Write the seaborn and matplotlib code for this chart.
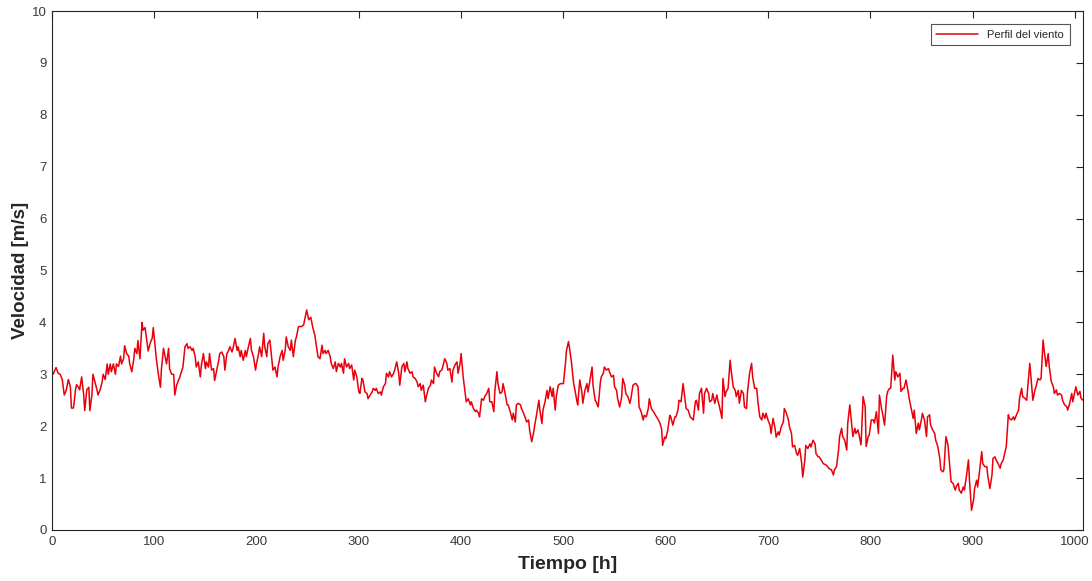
import matplotlib
matplotlib.use("Agg")
import matplotlib.pyplot as plt
import seaborn as sns
import pandas as pd

# ---- data (hour, wind speed m/s) ----
hours_a = [0,1,4,6,8,10,11,12,14,16,18,19,21,23,24,26,27,29,31,32,34,36,37,39,40,42,44,45,47,49,50,52,54,55,57,58,60,62,63,65,67,68,70,71,73,75,76,78,80,81,83,84,86,88,89,91,93,94,96,98,99,101,102,104,106,107,109,111,112,114,115,117,119,120,122,124]
speed_a = [3.05,3.0,3.13,3.02,3.0,2.9,2.75,2.6,2.7,2.9,2.75,2.35,2.35,2.7,2.8,2.75,2.7,2.95,2.6,2.3,2.7,2.75,2.3,2.6,3.0,2.85,2.7,2.6,2.7,2.85,3.0,2.9,3.2,3.0,3.2,3.05,3.2,3.0,3.2,3.15,3.35,3.2,3.3,3.55,3.4,3.35,3.2,3.05,3.3,3.5,3.4,3.65,3.3,4.0,3.85,3.9,3.6,3.45,3.6,3.7,3.9,3.5,3.3,3.0,2.75,3.1,3.5,3.3,3.2,3.5,3.1,3.0,3.0,2.6,2.8,2.9]

hours_b = [125,128,130,132,133,135,137,138,140,141,143,145,146,148,150,151,153,154,156,158,159,161,163,164,166,168,169,171,172,174,176,177,179,181,182,184,185,187,189,190,192,194,195,197,199,200,202,203,205,207,208,210,211,213,215,216,218,220,221,223,225,226,228,229,231,233,234,236,238,239,241,243,244,246,247,249,251]
speed_b = [2.95,3.14,3.53,3.59,3.5,3.53,3.46,3.5,3.34,3.14,3.24,2.95,3.17,3.4,3.11,3.24,3.14,3.4,3.08,3.11,2.88,3.08,3.27,3.4,3.43,3.34,3.08,3.4,3.43,3.53,3.43,3.5,3.69,3.46,3.53,3.34,3.46,3.27,3.46,3.34,3.53,3.69,3.46,3.34,3.08,3.21,3.4,3.53,3.34,3.79,3.53,3.34,3.59,3.66,3.27,3.08,3.14,2.95,3.14,3.34,3.46,3.27,3.46,3.72,3.53,3.46,3.66,3.34,3.66,3.72,3.92,3.92,3.92,3.95,4.05,4.24,4.05]

hours_c = [253,255,257,260,262,264,265,267,268,270,272,273,275,277,278,280,282,283,285,286,288,290,291,293,295,296,298,300,301,303,304,306,308,309,311,313,314,316,317,319,321,322,324,326,327,329,330,332,334,335,337,339,340,342,344,345,347,348,350,352,353,355,357,358,360,361,363,365,366,368,370,371,373]
speed_c = [4.1,3.9,3.75,3.34,3.30,3.56,3.40,3.46,3.40,3.46,3.34,3.21,3.11,3.24,3.05,3.21,3.14,3.21,3.02,3.30,3.14,3.21,3.11,3.18,2.89,3.08,2.95,2.66,2.63,2.92,2.89,2.66,2.63,2.53,2.60,2.66,2.73,2.69,2.73,2.63,2.66,2.60,2.76,2.82,3.02,2.95,3.05,2.95,3.02,3.08,3.24,3.02,2.79,3.14,3.21,3.05,3.24,3.11,3.02,3.05,2.95,2.92,2.85,2.76,2.82,2.69,2.79,2.47,2.57,2.73,2.79,2.89,2.82]

hours_d = [374,376,378,379,381,382,384,386,387,389,391,392,394,396,397,399,400,402,404,405,407,409,410,412,414,415,417,418,420,422,423,425,427,428,430,432,433,435,436,438,440,441,443,445,446,448,450,451,453,454,456,458,459,461,463,464,466,467,469,471,472,474,476,477,479,480,482,484,485,487,489,490,492,493,495,497,498,500,502,503,505]
speed_d = [3.14,3.02,2.95,3.05,3.08,3.14,3.30,3.21,3.08,3.11,2.85,3.08,3.18,3.24,3.02,3.21,3.40,2.95,2.63,2.47,2.53,2.41,2.47,2.34,2.28,2.31,2.25,2.18,2.53,2.50,2.57,2.63,2.73,2.47,2.47,2.28,2.69,3.05,2.82,2.63,2.66,2.82,2.63,2.41,2.41,2.28,2.12,2.25,2.08,2.41,2.44,2.41,2.34,2.25,2.15,2.08,2.12,1.92,1.70,1.89,2.02,2.25,2.50,2.31,2.05,2.31,2.47,2.69,2.53,2.76,2.57,2.73,2.31,2.57,2.79,2.82,2.82,2.82,3.21,3.46,3.63]

hours_e = [506,508,510,511,513,514,516,518,519,521,523,524,526,528,529,531,532,534,536,537,539,540,542,544,545,547,549,550,552,553,555,557,558,560,561,563,565,566,568,570,571,573,574,576,578,579,581,583,584,586,588,589,591,592,594,596,597,599,600,602,604,605,607,609,610,612,613,615,617,618,620,622]
speed_e = [3.50,3.21,2.82,2.73,2.50,2.41,2.89,2.66,2.44,2.69,2.82,2.66,2.89,3.14,2.79,2.50,2.47,2.37,2.82,2.95,3.02,3.14,3.08,3.11,3.05,2.95,2.98,2.76,2.69,2.53,2.37,2.57,2.92,2.79,2.63,2.57,2.44,2.53,2.79,2.82,2.82,2.76,2.37,2.28,2.12,2.21,2.18,2.34,2.53,2.34,2.28,2.25,2.18,2.15,2.08,1.95,1.63,1.79,1.76,1.92,2.21,2.18,2.02,2.18,2.18,2.31,2.50,2.47,2.82,2.66,2.34,2.31]

hours_f = [624,627,629,630,632,633,635,637,638,640,642,643,645,646,648,650,651,653,655,656,658,659,661,663,664,666,668,669,671,672,674,676,677,679,680,682,684,685,687,689,690,692,694,695,697,698,700,702,703,705,707,708,710,711,713,715,716,718,720,721,723,724,726,728,729,731,733,734,736,737,739,741,742,744,746,747,749,750]
speed_f = [2.18,2.12,2.47,2.50,2.31,2.63,2.73,2.25,2.63,2.73,2.63,2.47,2.50,2.63,2.44,2.60,2.50,2.34,2.15,2.92,2.57,2.66,2.73,3.27,3.08,2.76,2.69,2.57,2.69,2.44,2.69,2.63,2.37,2.34,2.66,3.02,3.21,2.95,2.73,2.73,2.50,2.18,2.12,2.25,2.15,2.25,2.12,2.02,1.86,2.15,1.95,1.79,1.89,1.83,1.99,2.08,2.34,2.25,2.12,1.99,1.86,1.60,1.63,1.47,1.44,1.57,1.28,1.02,1.34,1.63,1.57,1.66,1.60,1.73,1.66,1.47,1.41,1.41]

hours_g = [752,754,757,760,762,764,765,767,769,770,772,773,775,777,778,780,782,783,785,786,788,790,791,793,795,796,798,799,801,803,804,806,808,809,811,812,814,816,817,819,820,822,824,825,827,829,830,832,833,835,837,838,840,842,843,845,847,848,850,851,853,855,856,858,859,861,863,864,866,868,869,871,872,874,876,877]
speed_g = [1.35,1.28,1.25,1.18,1.16,1.06,1.16,1.22,1.54,1.80,1.96,1.80,1.73,1.54,2.06,2.41,1.99,1.80,1.96,1.86,1.93,1.73,1.64,2.57,2.38,1.61,1.80,1.83,2.12,2.12,2.06,2.28,1.86,2.60,2.34,2.25,2.02,2.57,2.67,2.73,2.73,3.37,2.89,3.05,2.95,3.02,2.67,2.73,2.73,2.89,2.67,2.54,2.34,2.15,2.31,1.86,2.06,1.93,2.12,2.25,2.12,1.80,2.18,2.22,2.02,1.93,1.86,1.73,1.61,1.38,1.16,1.12,1.16,1.80,1.64,1.41]

hours_h = [879,881,883,884,886,887,889,891,892,894,896,897,899,901,902,904,905,907,909,910,912,914,915,917,919,920,922,923,925,927,928,930,931,933,935,936,938,940,941,943,945,946,948,949,951,953,954,956,958,959,961,962,964,966,967,969,970,972,974,975,977,979,980,982,983,985,987,988,990,992,993,995,997,998,1000,1001,1003,1005,1006,1008]
speed_h = [0.93,0.90,0.77,0.83,0.90,0.77,0.71,0.83,0.77,1.03,1.35,0.96,0.38,0.58,0.80,0.96,0.83,1.16,1.51,1.28,1.22,1.22,1.03,0.80,1.06,1.38,1.41,1.35,1.28,1.19,1.28,1.35,1.44,1.61,2.22,2.15,2.12,2.18,2.12,2.22,2.31,2.54,2.73,2.57,2.54,2.50,2.76,3.21,2.73,2.50,2.70,2.76,2.92,2.89,2.92,3.66,3.47,3.15,3.40,3.15,2.86,2.76,2.63,2.70,2.60,2.63,2.60,2.50,2.41,2.38,2.31,2.44,2.63,2.47,2.67,2.76,2.60,2.67,2.54,2.50]

x_ticks = list(range(0, 1001, 100))
y_ticks = list(range(0, 11))
series_label = "Perfil del viento"
x_label = "Tiempo [h]"
y_label = "Velocidad [m/s]"

hours = hours_a + hours_b + hours_c + hours_d + hours_e + hours_f + hours_g + hours_h
speed = speed_a + speed_b + speed_c + speed_d + speed_e + speed_f + speed_g + speed_h
df = pd.DataFrame({"t": hours, "v": speed})

sns.set_theme(style="white")
plt.rcParams["font.family"] = ["Liberation Sans", "DejaVu Sans"]

fig = plt.figure(figsize=(10.92, 5.81), dpi=100)
ax = fig.add_axes([52 / 1092, 1 - 530 / 581, (1083 - 52) / 1092, (530 - 11) / 581])

sns.lineplot(data=df, x="t", y="v", ax=ax, color="#e8000b", linewidth=1.1,
             label=series_label, estimator=None, sort=False)

ax.set_xlim(0, 1008)
ax.set_ylim(0, 10)
ax.set_xticks(x_ticks)
ax.set_yticks(y_ticks)
edge = "#262626"
for s in ax.spines.values():
    s.set_visible(True)
    s.set_color(edge)
    s.set_linewidth(0.8)
ax.tick_params(direction="in", top=True, right=True, length=5, width=0.8,
               colors=edge, labelsize=9.5, labelcolor="#3a3a3a", pad=4)
ax.set_xlabel(x_label, fontsize=14, fontweight="bold", color=edge, labelpad=6)
ax.set_ylabel(y_label, fontsize=13.5, fontweight="bold", color=edge, labelpad=2)
ax.grid(False)

leg = ax.legend(loc="upper right", fontsize=8, frameon=True, fancybox=False,
                edgecolor="#555555", framealpha=1, handlelength=3.8,
                borderaxespad=1.2, borderpad=0.5)
leg.get_frame().set_linewidth(0.8)

fig.savefig("out.png", dpi=100)
